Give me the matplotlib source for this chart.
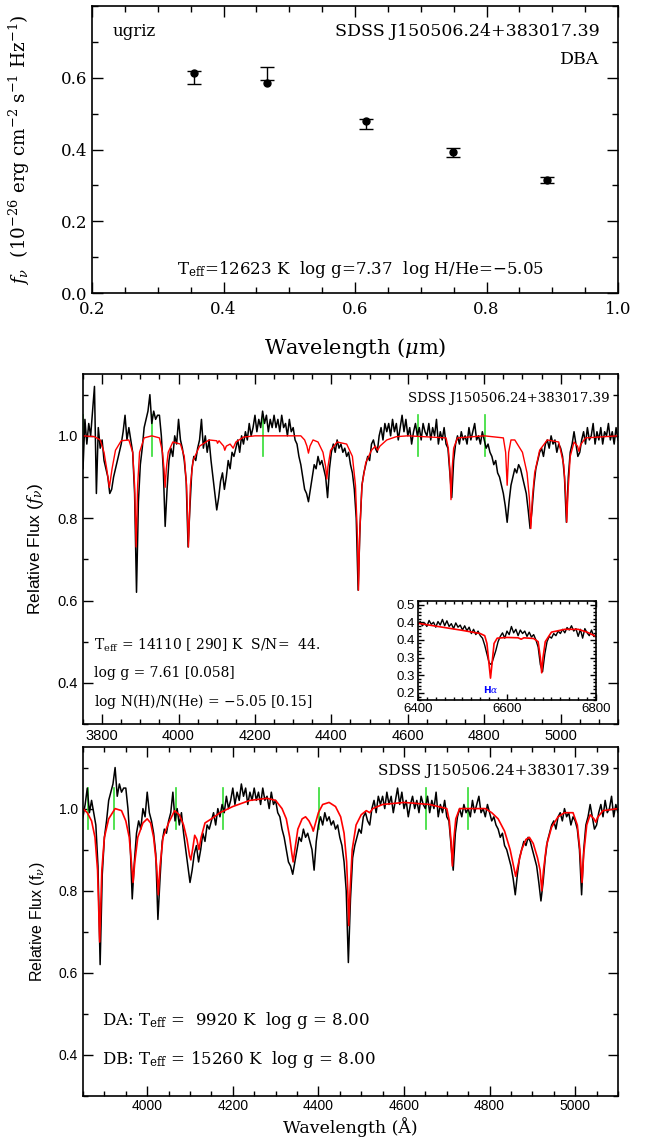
import matplotlib
matplotlib.use("Agg")
import matplotlib.pyplot as plt
import numpy as np
from matplotlib.ticker import MultipleLocator, FixedLocator

plt.rcParams['mathtext.fontset'] = 'dejavuserif'

# ---- photometry (ugriz) ----
phot_wave = [0.355, 0.466, 0.616, 0.749, 0.892]
phot_obs = [0.602, 0.611, 0.472, 0.391, 0.315]
phot_err = [0.018, 0.018, 0.014, 0.012, 0.009]
phot_model = [0.613, 0.586, 0.479, 0.394, 0.316]

# ---- observed spectrum, 3750-5150 A every 5 A ----
spec_wave = np.arange(3750, 5151, 5)
spec_flux = [
    0.92, 1.04, 0.98, 1.03, 1.00, 1.06, 1.12, 0.86, 1.02, 0.97, 0.99, 0.94, 0.92, 0.90, 0.86, 0.87, 0.90, 0.92, 0.94, 0.96,
    0.98, 1.01, 1.05, 0.99, 1.02, 0.99, 0.96, 0.86, 0.62, 0.84, 0.93, 0.97, 1.02, 1.04, 1.06, 1.10, 1.03, 1.06, 1.04, 1.05,
    1.05, 1.00, 0.92, 0.78, 0.87, 0.94, 0.97, 0.95, 1.00, 0.98, 1.04, 0.99, 0.97, 0.94, 0.89, 0.73, 0.83, 0.92, 0.95, 0.94,
    0.97, 0.99, 1.04, 0.97, 1.00, 0.96, 0.99, 0.94, 0.90, 0.86, 0.82, 0.85, 0.89, 0.91, 0.87, 0.90, 0.94, 0.92, 0.96, 0.95,
    0.97, 0.99, 0.96, 1.00, 0.98, 1.01, 0.99, 1.03, 1.00, 1.02, 1.05, 1.01, 1.04, 1.02, 1.06, 1.03, 1.05, 1.01, 1.04, 1.02,
    1.05, 1.02, 1.04, 1.01, 1.05, 1.02, 1.03, 1.00, 1.04, 1.01, 1.02, 0.99, 0.98, 0.95, 0.93, 0.90, 0.87, 0.86, 0.84, 0.87,
    0.90, 0.93, 0.92, 0.95, 0.93, 0.94, 0.92, 0.90, 0.85, 0.92, 0.96, 0.98, 0.96, 0.99, 0.97, 0.98, 0.96, 0.97, 0.95, 0.96,
    0.93, 0.91, 0.87, 0.80, 0.625, 0.78, 0.88, 0.91, 0.93, 0.95, 0.94, 0.98, 0.99, 0.97, 0.96, 1.00, 1.02, 0.99, 1.03, 1.01,
    1.03, 1.00, 1.04, 1.01, 1.03, 0.99, 1.02, 1.05, 1.01, 1.04, 1.00, 1.02, 0.98, 1.01, 1.03, 1.00, 1.02, 0.99, 1.03, 1.01,
    1.00, 1.03, 0.99, 1.02, 1.00, 1.04, 0.98, 1.01, 0.99, 1.02, 0.98, 0.97, 0.91, 0.85, 0.94, 0.98, 1.00, 0.98, 1.01, 0.99,
    1.00, 0.98, 1.02, 0.99, 1.01, 1.03, 0.99, 1.00, 0.98, 1.01, 0.99, 0.97, 0.98, 0.96, 0.95, 0.93, 0.94, 0.91, 0.90, 0.88,
    0.86, 0.83, 0.79, 0.84, 0.88, 0.90, 0.92, 0.91, 0.93, 0.92, 0.90, 0.88, 0.86, 0.82, 0.775, 0.82, 0.88, 0.92, 0.94, 0.96,
    0.97, 0.95, 0.98, 0.99, 0.97, 1.00, 0.98, 0.99, 0.96, 0.98, 0.97, 0.95, 0.90, 0.79, 0.90, 0.96, 0.98, 1.01, 0.98, 0.95,
    0.96, 0.99, 1.01, 0.98, 1.02, 0.99, 1.00, 1.03, 0.98, 1.01, 0.99, 1.02, 0.98, 1.01, 1.00, 1.03, 0.99, 1.01, 0.98, 1.02,
    0.99,
]

# ---- DB+H model (middle panel) ----
mid_model_wave = [3750, 3780, 3795, 3805, 3812, 3819, 3826, 3835, 3850, 3870, 3880, 3885, 3889, 3893, 3898, 3910, 3930,
                  3950, 3958, 3962, 3965, 3968, 3973, 3985, 4005, 4015, 4021, 4026, 4031, 4038, 4055, 4080, 4100, 4102,
                  4106, 4118, 4121, 4125, 4135, 4143, 4150, 4170, 4200, 4320, 4330, 4336, 4340, 4344, 4352, 4365, 4378,
                  4385, 4388, 4391, 4398, 4415, 4440, 4455, 4463, 4468, 4471, 4474, 4480, 4490, 4505, 4515, 4521, 4527,
                  4545, 4570, 4600, 4700, 4706, 4710, 4713, 4716, 4720, 4730, 4800, 4850, 4856, 4860, 4864, 4870, 4880,
                  4900, 4912, 4918, 4922, 4926, 4932, 4945, 4965, 4995, 5008, 5013, 5016, 5019, 5025, 5035, 5044, 5048,
                  5052, 5065, 5150]
mid_model_flux = [1.00, 0.998, 0.99, 0.96, 0.92, 0.875, 0.92, 0.965, 0.988, 0.99, 0.96, 0.88, 0.73, 0.88, 0.96, 0.995, 1.0,
                  0.995, 0.96, 0.92, 0.875, 0.92, 0.96, 0.985, 0.98, 0.95, 0.88, 0.73, 0.88, 0.94, 0.975, 0.99, 0.988, 0.982,
                  0.988, 0.975, 0.965, 0.975, 0.98, 0.97, 0.985, 0.997, 1.0, 1.0, 0.99, 0.975, 0.958, 0.975, 0.99, 0.985, 0.96,
                  0.925, 0.895, 0.925, 0.965, 0.985, 0.98, 0.95, 0.88, 0.76, 0.625, 0.76, 0.88, 0.935, 0.965, 0.975, 0.965, 0.975,
                  0.99, 0.998, 1.0, 0.995, 0.97, 0.92, 0.845, 0.92, 0.97, 0.995, 1.0, 0.995, 0.96, 0.88, 0.96, 0.99, 0.99,
                  0.96, 0.91, 0.85, 0.775, 0.85, 0.91, 0.965, 0.99, 0.985, 0.93, 0.86, 0.79, 0.86, 0.95, 0.985, 0.975, 0.962,
                  0.978, 0.995, 1.0]

# ---- DA+DB model (bottom panel) ----
bot_model_wave = [3850, 3860, 3870, 3878, 3884, 3889, 3894, 3900, 3910, 3925, 3940, 3950, 3958, 3963, 3967, 3971, 3978,
                  3990, 4000, 4008, 4015, 4022, 4026, 4030, 4037, 4050, 4064, 4075, 4085, 4093, 4099, 4102, 4106, 4111,
                  4116, 4121, 4126, 4135, 4150, 4170, 4200, 4240, 4280, 4300, 4315, 4325, 4333, 4338, 4341, 4345, 4352,
                  4362, 4370, 4378, 4385, 4388, 4392, 4400, 4410, 4425, 4440, 4452, 4460, 4466, 4469, 4471, 4474, 4479,
                  4488, 4500, 4512, 4520, 4527, 4550, 4600, 4660, 4700, 4706, 4710, 4713, 4716, 4721, 4730, 4790, 4805,
                  4820, 4835, 4848, 4856, 4861, 4866, 4875, 4885, 4893, 4902, 4912, 4918, 4922, 4926, 4933, 4945, 4960,
                  4975, 4995, 5005, 5011, 5016, 5020, 5027, 5035, 5044, 5048, 5052, 5065, 5100]
bot_model_flux = [1.0, 0.99, 0.97, 0.93, 0.85, 0.675, 0.85, 0.93, 0.975, 1.0, 0.995, 0.97, 0.93, 0.87, 0.82, 0.87, 0.93,
                  0.965, 0.975, 0.965, 0.93, 0.86, 0.79, 0.86, 0.93, 0.965, 0.995, 0.985, 0.96, 0.925, 0.885, 0.875, 0.9, 0.935,
                  0.925, 0.90, 0.93, 0.965, 0.975, 0.99, 1.005, 1.02, 1.025, 1.02, 1.0, 0.975, 0.93, 0.89, 0.87, 0.9, 0.95,
                  0.975, 0.98, 0.97, 0.955, 0.945, 0.96, 0.99, 1.01, 1.015, 1.005, 0.98, 0.94, 0.87, 0.79, 0.715, 0.8, 0.9,
                  0.96, 0.985, 0.995, 0.99, 1.0, 1.01, 1.015, 1.01, 1.0, 0.97, 0.92, 0.86, 0.92, 0.975, 1.0, 1.0, 0.99,
                  0.975, 0.945, 0.9, 0.86, 0.835, 0.86, 0.9, 0.925, 0.93, 0.915, 0.88, 0.85, 0.80, 0.85, 0.91, 0.955, 0.98,
                  0.99, 0.99, 0.96, 0.9, 0.82, 0.89, 0.96, 0.985, 0.975, 0.967, 0.978, 0.995, 1.0]

# green markers
mid_green = [3750, 3931, 4222, 4626, 4802]
bot_green = [3861, 3922, 4067, 4176, 4401, 4651, 4750]

# ---- inset: H-alpha region ----
ins_wave = np.arange(6400, 6801, 5)
ins_flux = [0.445, 0.452, 0.440, 0.448, 0.438, 0.455, 0.444, 0.450, 0.436, 0.452, 0.442, 0.458, 0.440, 0.454, 0.438,
            0.446, 0.432, 0.448, 0.436, 0.442, 0.428, 0.440, 0.426, 0.436, 0.418, 0.430, 0.415, 0.425, 0.412, 0.405,
            0.385, 0.36, 0.335, 0.33, 0.35, 0.37, 0.395, 0.41, 0.42, 0.405, 0.425, 0.415, 0.438, 0.42, 0.43, 0.412,
            0.428, 0.418, 0.425, 0.41, 0.422, 0.408, 0.415, 0.40, 0.38, 0.33, 0.31, 0.36, 0.395, 0.41, 0.405, 0.418,
            0.412, 0.425, 0.418, 0.43, 0.42, 0.435, 0.428, 0.44, 0.425, 0.432, 0.41, 0.43, 0.405, 0.432, 0.42, 0.412,
            0.428, 0.41, 0.415]
ins_model_wave = [6400, 6450, 6500, 6540, 6550, 6555, 6559, 6563, 6567, 6571, 6578, 6600, 6625, 6632, 6638, 6660, 6670,
                  6675, 6678, 6681, 6686, 6700, 6730, 6760, 6780, 6800]
ins_model_flux = [0.447, 0.437, 0.427, 0.418, 0.412, 0.39, 0.34, 0.292, 0.34, 0.39, 0.405, 0.407, 0.406, 0.402, 0.406,
                  0.404, 0.395, 0.35, 0.307, 0.35, 0.395, 0.422, 0.43, 0.43, 0.422, 0.41]
ins_yticks = [0.5, 0.45, 0.4, 0.35, 0.3, 0.25]
ins_ylabels = ['0.5', '0.4', '0.4', '0.3', '0.3', '0.2']

star = 'SDSS J150506.24+383017.39'
serif = 'DejaVu Serif'
sans = 'Liberation Sans'


def ticks(ax, size=7):
    ax.tick_params(which='both', direction='in', top=True, right=True, width=1)
    ax.tick_params(which='major', length=size)
    ax.tick_params(which='minor', length=size / 2)
    for s in ax.spines.values():
        s.set_linewidth(1.2)


fig = plt.figure(figsize=(6.49, 11.37), dpi=100)

# ---------------- top panel: photometry ----------------
ax1 = fig.add_axes([0.1418, 0.7423, 0.8105, 0.2524])
ax1.errorbar(phot_wave, phot_obs, yerr=phot_err, fmt='none', ecolor='black', elinewidth=1, capsize=5, capthick=1)
ax1.plot(phot_wave, phot_model, 'o', color='black', markersize=5)
ax1.set_xlim(0.2, 1.0)
ax1.set_ylim(0.0, 0.8)
ax1.xaxis.set_major_locator(MultipleLocator(0.2))
ax1.xaxis.set_minor_locator(MultipleLocator(0.05))
ax1.yaxis.set_major_locator(FixedLocator([0.0, 0.2, 0.4, 0.6]))
ax1.yaxis.set_minor_locator(MultipleLocator(0.1))
ticks(ax1, 8)
for lab in ax1.get_xticklabels() + ax1.get_yticklabels():
    lab.set_fontfamily(serif)
    lab.set_fontsize(12)
ax1.xaxis.set_tick_params(pad=6)
ax1.set_xlabel('Wavelength ($\\mu$m)', family=serif, fontsize=15)
ax1.xaxis.set_label_coords(0.5, -0.15)
ax1.set_ylabel('$f_\\nu$  (10$^{-26}$ erg cm$^{-2}$ s$^{-1}$ Hz$^{-1}$)', family=serif, fontsize=13.2)
ax1.yaxis.set_label_coords(-0.115, 0.5)
ax1.text(0.04, 0.94, 'ugriz', transform=ax1.transAxes, family=serif, fontsize=12, va='top')
ax1.text(0.965, 0.94, star, transform=ax1.transAxes, family=serif, fontsize=12.5, va='top', ha='right')
ax1.text(0.965, 0.845, 'DBA', transform=ax1.transAxes, family=serif, fontsize=12.5, va='top', ha='right')
ax1.text(0.51, 0.065, 'T$_{\\rm eff}$=12623 K  log g=7.37  log H/He=$-$5.05', transform=ax1.transAxes,
         family=serif, fontsize=12, ha='center')

# ---------------- middle panel: DB fit ----------------
ax2 = fig.add_axes([0.1279, 0.3632, 0.8243, 0.3078])
for g in mid_green:
    ax2.plot([g, g], [0.95, 1.05], color='#33dd33', lw=1.2)
ax2.plot(spec_wave, spec_flux, color='black', lw=1.1)
ax2.plot(mid_model_wave, mid_model_flux, color='red', lw=1)
ax2.set_xlim(3750, 5150)
ax2.set_ylim(0.3, 1.15)
ax2.xaxis.set_major_locator(MultipleLocator(200))
ax2.xaxis.set_minor_locator(MultipleLocator(50))
ax2.yaxis.set_major_locator(MultipleLocator(0.2))
ax2.yaxis.set_minor_locator(MultipleLocator(0.1))
ticks(ax2, 7)
for lab in ax2.get_xticklabels() + ax2.get_yticklabels():
    lab.set_fontfamily(sans)
    lab.set_fontsize(10.5)
ax2.set_ylabel('Relative Flux ($f_\\nu$)', family=sans, fontsize=12.5)
ax2.yaxis.set_label_coords(-0.07, 0.5)
ax2.text(0.985, 0.95, star, transform=ax2.transAxes, family=serif, fontsize=9.5, ha='right', va='top')
ax2.text(0.02, 0.225, 'T$_{\\rm eff}$ = 14110 [ 290] K  S/N=  44.', transform=ax2.transAxes,
         family=serif, fontsize=10, va='center')
ax2.text(0.02, 0.145, 'log g = 7.61 [0.058]', transform=ax2.transAxes, family=serif, fontsize=10, va='center')
ax2.text(0.02, 0.065, 'log N(H)/N(He) = $-$5.05 [0.15]', transform=ax2.transAxes, family=serif,
         fontsize=10, va='center')

# inset
ax3 = fig.add_axes([0.644, 0.3843, 0.2743, 0.0871])
ax3.plot(ins_wave, ins_flux, color='black', lw=1)
ax3.plot(ins_model_wave, ins_model_flux, color='red', lw=1.2)
ax3.set_xlim(6400, 6800)
ax3.set_ylim(0.23, 0.51)
ax3.xaxis.set_major_locator(MultipleLocator(200))
ax3.xaxis.set_minor_locator(MultipleLocator(20))
ax3.yaxis.set_major_locator(FixedLocator(ins_yticks))
ax3.set_yticklabels(ins_ylabels)
ax3.yaxis.set_minor_locator(MultipleLocator(0.01))
ticks(ax3, 4)
for lab in ax3.get_xticklabels() + ax3.get_yticklabels():
    lab.set_fontfamily(sans)
    lab.set_fontsize(9.5)
ax3.tick_params(pad=2)
ax3.text(6563, 0.26, 'H$\\alpha$', color='blue', fontsize=6.5, fontweight='bold', ha='center', va='center')

# ---------------- bottom panel: DA+DB fit ----------------
ax4 = fig.add_axes([0.1279, 0.0361, 0.8243, 0.3069])
for g in bot_green:
    ax4.plot([g, g], [0.95, 1.05], color='#33dd33', lw=1.2)
ax4.plot(spec_wave, spec_flux, color='black', lw=1.1)
ax4.plot(bot_model_wave, bot_model_flux, color='red', lw=1.2)
ax4.set_xlim(3850, 5100)
ax4.set_ylim(0.3, 1.15)
ax4.xaxis.set_major_locator(MultipleLocator(200))
ax4.xaxis.set_minor_locator(MultipleLocator(50))
ax4.yaxis.set_major_locator(MultipleLocator(0.2))
ax4.yaxis.set_minor_locator(MultipleLocator(0.1))
ticks(ax4, 7)
for lab in ax4.get_xticklabels() + ax4.get_yticklabels():
    lab.set_fontfamily(sans)
    lab.set_fontsize(10)
ax4.tick_params(axis='x', pad=2)
ax4.set_xlabel('Wavelength (Å)', family=serif, fontsize=12.5)
ax4.xaxis.set_label_coords(0.5, -0.06)
ax4.set_ylabel('Relative Flux (f$_\\nu$)', family=sans, fontsize=11.5)
ax4.yaxis.set_label_coords(-0.067, 0.5)
ax4.text(0.985, 0.95, star, transform=ax4.transAxes, family=serif, fontsize=11, ha='right', va='top')
ax4.text(0.035, 0.215, 'DA: T$_{\\rm eff}$ =  9920 K  log g = 8.00', transform=ax4.transAxes,
         family=serif, fontsize=12, va='center')
ax4.text(0.035, 0.105, 'DB: T$_{\\rm eff}$ = 15260 K  log g = 8.00', transform=ax4.transAxes,
         family=serif, fontsize=12, va='center')

fig.savefig('out.png', dpi=100)
